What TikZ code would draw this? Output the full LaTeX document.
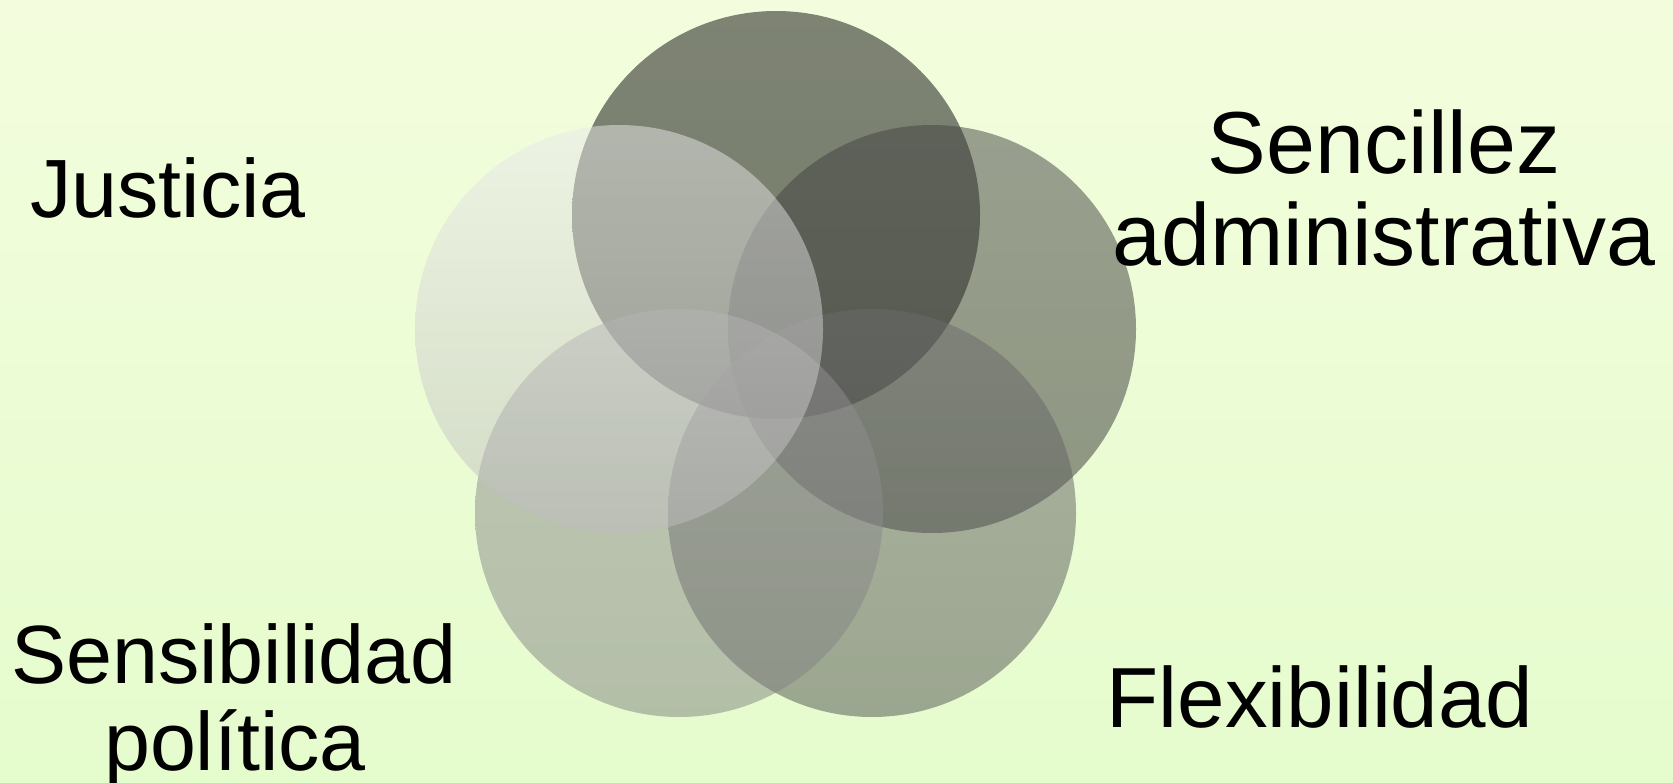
\documentclass[tikz,border=0pt]{standalone}
\usepackage{fontspec}
\setmainfont{Liberation Sans}
\usetikzlibrary{shapes}
\definecolor{bgtop}{RGB}{243,253,221}
\definecolor{bgbot}{RGB}{229,252,205}
\tikzstyle{venn}=[circle,inner sep=0pt,minimum size=306pt,fill opacity=0.5,draw=none]
\tikzstyle{lbl}=[anchor=base,inner sep=0pt]

\begin{document}
\begin{tikzpicture}[x=0.75pt,y=-0.75pt]
\shade[top color=bgtop,bottom color=bgbot] (0,0) rectangle (1673,782);
\useasboundingbox (0,0) rectangle (1673,782);
% five overlapping circles, drawn clockwise from the top
\node[venn,top color=black!96,bottom color=black] (T) at (776,215) {};
\node[venn,top color=black!74,bottom color=black!80] (R) at (932,329) {};
\node[venn,top color=black!58,bottom color=black!68] (BR) at (872,513) {};
\node[venn,top color=black!42,bottom color=black!49] (BL) at (679,513) {};
\node[venn,top color=black!8,bottom color=black!26] (L) at (619,329) {};
% labels
\node[lbl,font=\fontsize{62}{66}\selectfont] (just) at (168,217) {Justicia};
\node[lbl,font=\fontsize{66}{70}\selectfont] (senc) at (1384,173) {Sencillez};
\node[lbl,font=\fontsize{66}{70}\selectfont] (adm) at (1384,265) {administrativa};
\node[lbl,font=\fontsize{62}{66}\selectfont] (sens) at (234,683) {Sensibilidad};
\node[lbl,font=\fontsize{62}{66}\selectfont] (pol) at (235,770) {política};
\node[lbl,font=\fontsize{64}{68}\selectfont] (flex) at (1320,727) {Flexibilidad};
\end{tikzpicture}
\end{document}
